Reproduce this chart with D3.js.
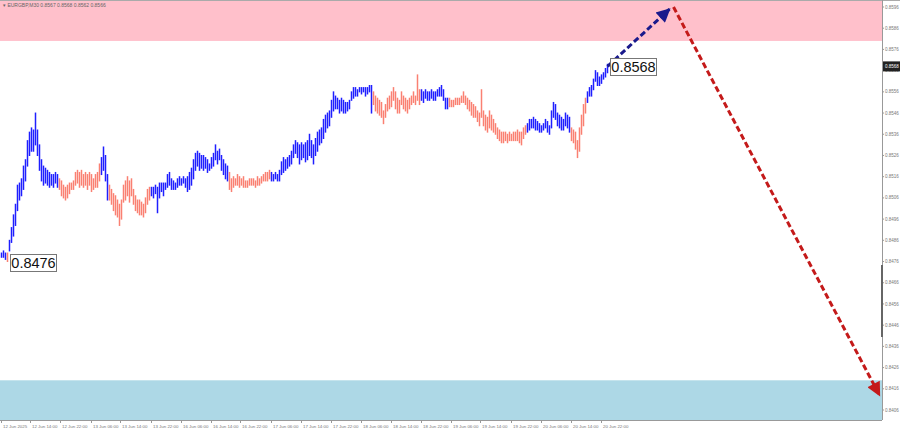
<!DOCTYPE html>
<html><head><meta charset="utf-8">
<script src="https://cdn.jsdelivr.net/npm/d3@7"></script>
<style>html,body{margin:0;padding:0;background:#fff;overflow:hidden}</style>
</head><body><svg id="c" width="900" height="432"></svg>
<script>
const headerText = "\u25BE EURGBP,M30  0.8567 0.8568 0.8562 0.8566";
const timeLabels = ["12 Jun 2025","12 Jun 14:00","12 Jun 22:00","13 Jun 06:00","13 Jun 14:00","13 Jun 22:00",
  "16 Jun 06:00","16 Jun 14:00","16 Jun 22:00","17 Jun 06:00","17 Jun 14:00","17 Jun 22:00",
  "18 Jun 06:00","18 Jun 14:00","18 Jun 22:00","19 Jun 06:00","19 Jun 14:00","19 Jun 22:00",
  "20 Jun 06:00","20 Jun 14:00","20 Jun 22:00"];
const barsPerLabel = 15;
const priceTicks = [0.8596,0.8586,0.8576,0.8566,0.8556,0.8546,0.8536,0.8526,0.8516,0.8506,0.8496,
  0.8486,0.8476,0.8466,0.8456,0.8446,0.8436,0.8426,0.8416,0.8406];
const highs = [
0.8480,0.8481,0.8480,0.8480,0.8486,0.8492,0.8498,0.8503,0.8512,0.8513,
0.8515,0.8521,0.8524,0.8533,0.8537,0.8539,0.8538,0.8546,0.8538,0.8531,
0.8524,0.8521,0.8520,0.8519,0.8518,0.8517,0.8517,0.8518,0.8517,0.8515,
0.8514,0.8512,0.8511,0.8512,0.8513,0.8513,0.8514,0.8518,0.8519,0.8518,
0.8519,0.8517,0.8518,0.8517,0.8518,0.8517,0.8515,0.8517,0.8518,0.8522,
0.8525,0.8530,0.8526,0.8517,0.8512,0.8510,0.8508,0.8507,0.8505,0.8503,
0.8505,0.8512,0.8514,0.8516,0.8514,0.8515,0.8510,0.8507,0.8505,0.8505,
0.8504,0.8503,0.8506,0.8510,0.8511,0.8511,0.8511,0.8512,0.8511,0.8513,
0.8513,0.8513,0.8513,0.8517,0.8518,0.8515,0.8514,0.8513,0.8515,0.8516,
0.8515,0.8516,0.8515,0.8516,0.8518,0.8520,0.8524,0.8527,0.8528,0.8527,
0.8526,0.8526,0.8525,0.8524,0.8522,0.8525,0.8527,0.8531,0.8528,0.8529,
0.8526,0.8524,0.8522,0.8521,0.8518,0.8515,0.8516,0.8515,0.8517,0.8516,
0.8515,0.8516,0.8514,0.8514,0.8515,0.8515,0.8515,0.8514,0.8516,0.8515,
0.8516,0.8517,0.8518,0.8518,0.8519,0.8518,0.8517,0.8518,0.8517,0.8519,
0.8523,0.8525,0.8524,0.8525,0.8526,0.8528,0.8531,0.8533,0.8532,0.8531,
0.8532,0.8531,0.8532,0.8533,0.8536,0.8533,0.8531,0.8534,0.8537,0.8538,
0.8539,0.8543,0.8545,0.8546,0.8547,0.8552,0.8556,0.8554,0.8553,0.8552,
0.8553,0.8552,0.8551,0.8551,0.8552,0.8556,0.8558,0.8558,0.8557,0.8558,
0.8558,0.8558,0.8558,0.8558,0.8559,0.8559,0.8556,0.8554,0.8553,0.8552,
0.8551,0.8547,0.8550,0.8553,0.8554,0.8556,0.8558,0.8556,0.8553,0.8552,
0.8556,0.8554,0.8553,0.8552,0.8553,0.8554,0.8556,0.8554,0.8564,0.8557,
0.8557,0.8556,0.8557,0.8556,0.8556,0.8557,0.8556,0.8556,0.8557,0.8558,
0.8559,0.8557,0.8553,0.8553,0.8553,0.8552,0.8552,0.8553,0.8553,0.8553,
0.8554,0.8556,0.8554,0.8553,0.8552,0.8551,0.8550,0.8549,0.8547,0.8546,
0.8557,0.8547,0.8545,0.8544,0.8547,0.8545,0.8543,0.8541,0.8539,0.8538,
0.8537,0.8537,0.8537,0.8536,0.8537,0.8536,0.8537,0.8537,0.8538,0.8537,
0.8537,0.8539,0.8540,0.8541,0.8543,0.8543,0.8544,0.8543,0.8542,0.8541,
0.8540,0.8541,0.8543,0.8542,0.8540,0.8547,0.8551,0.8550,0.8546,0.8545,
0.8544,0.8543,0.8546,0.8545,0.8544,0.8539,0.8538,0.8537,0.8533,0.8539,
0.8545,0.8550,0.8553,0.8556,0.8558,0.8559,0.8562,0.8566,0.8565,0.8563,
0.8564,0.8565,0.8567,0.8569];
const lows = [
0.8478,0.8478,0.8477,0.8476,0.8481,0.8485,0.8488,0.8493,0.8500,0.8505,
0.8507,0.8510,0.8514,0.8521,0.8526,0.8528,0.8528,0.8531,0.8526,0.8519,
0.8514,0.8512,0.8513,0.8512,0.8511,0.8512,0.8511,0.8513,0.8511,0.8510,
0.8507,0.8506,0.8505,0.8506,0.8508,0.8510,0.8510,0.8512,0.8513,0.8511,
0.8512,0.8511,0.8512,0.8510,0.8512,0.8509,0.8510,0.8511,0.8511,0.8514,
0.8517,0.8519,0.8514,0.8505,0.8505,0.8503,0.8500,0.8498,0.8497,0.8493,
0.8496,0.8504,0.8505,0.8507,0.8504,0.8507,0.8503,0.8500,0.8499,0.8498,
0.8498,0.8497,0.8499,0.8503,0.8505,0.8507,0.8506,0.8508,0.8499,0.8506,
0.8509,0.8507,0.8510,0.8511,0.8512,0.8510,0.8510,0.8510,0.8511,0.8512,
0.8512,0.8513,0.8511,0.8509,0.8510,0.8512,0.8515,0.8519,0.8521,0.8519,
0.8520,0.8519,0.8520,0.8518,0.8519,0.8520,0.8521,0.8524,0.8522,0.8524,
0.8519,0.8517,0.8515,0.8514,0.8510,0.8509,0.8511,0.8512,0.8512,0.8511,
0.8512,0.8511,0.8511,0.8511,0.8512,0.8512,0.8512,0.8511,0.8512,0.8512,
0.8513,0.8514,0.8514,0.8514,0.8515,0.8514,0.8514,0.8515,0.8514,0.8514,
0.8517,0.8518,0.8519,0.8520,0.8521,0.8522,0.8525,0.8527,0.8525,0.8522,
0.8524,0.8525,0.8523,0.8524,0.8526,0.8525,0.8522,0.8526,0.8528,0.8531,
0.8532,0.8534,0.8537,0.8539,0.8540,0.8544,0.8547,0.8548,0.8548,0.8546,
0.8547,0.8546,0.8546,0.8547,0.8548,0.8552,0.8553,0.8554,0.8554,0.8556,
0.8555,0.8556,0.8554,0.8555,0.8556,0.8546,0.8550,0.8547,0.8546,0.8545,
0.8544,0.8541,0.8544,0.8547,0.8548,0.8549,0.8552,0.8548,0.8546,0.8546,
0.8550,0.8548,0.8547,0.8546,0.8548,0.8550,0.8551,0.8550,0.8552,0.8550,
0.8552,0.8551,0.8553,0.8552,0.8552,0.8553,0.8552,0.8552,0.8554,0.8554,
0.8554,0.8552,0.8548,0.8548,0.8549,0.8549,0.8549,0.8550,0.8550,0.8550,
0.8551,0.8551,0.8550,0.8548,0.8547,0.8545,0.8544,0.8544,0.8542,0.8540,
0.8544,0.8540,0.8538,0.8537,0.8539,0.8538,0.8537,0.8536,0.8534,0.8533,
0.8532,0.8532,0.8533,0.8532,0.8533,0.8533,0.8533,0.8533,0.8533,0.8532,
0.8531,0.8534,0.8536,0.8537,0.8538,0.8539,0.8539,0.8538,0.8538,0.8537,
0.8537,0.8538,0.8539,0.8537,0.8536,0.8539,0.8544,0.8543,0.8540,0.8539,
0.8538,0.8538,0.8540,0.8539,0.8537,0.8533,0.8532,0.8529,0.8525,0.8528,
0.8536,0.8540,0.8546,0.8551,0.8554,0.8554,0.8557,0.8561,0.8559,0.8559,
0.8560,0.8562,0.8563,0.8565];
// wave segments: start bar index of each wave, alternating up (blue) / down (salmon)
const waveStarts = [0,3,4,29,50,54,75,114,135,186,210,224,263,285,293];
const waveColors = ["#1f1fff","#fa8072"];
// target zones
const resistanceZone = [0.8580, 0.8600];
const supportZone = [0.8400, 0.8420];
// forecast arrows [bar index, price]
const forecastUp = [[303,0.8568],[334,0.8595]];
const forecastDown = [[336,0.8596],[439,0.8413]];
// labels on the chart
const priceMarks = [{i:3, v:0.8476, t:"0.8476", dx:2}, {i:303, v:0.8568, t:"0.8568", dx:3}];
const lastPrice = 0.8568;
const totalSlots = 440;

const svg = d3.select("#c");
const W = 900, H = 432, plotR = 882, plotB = 420;
const x = d3.scaleLinear().domain([0,totalSlots]).range([1.5, plotR-0.5]);
const y = d3.scaleLinear().domain([0.8406, 0.8596]).range([410, 7]);
const FONT = "Liberation Sans, Arial, sans-serif";

svg.append("rect").attr("width",W).attr("height",H).attr("fill","#fff");
svg.append("defs").append("clipPath").attr("id","plot").append("rect")
  .attr("x",0).attr("y",1).attr("width",plotR).attr("height",plotB-1);
const g = svg.append("g").attr("clip-path","url(#plot)");

// zones
g.append("rect").attr("x",0).attr("width",plotR)
  .attr("y",y(resistanceZone[1])).attr("height",y(resistanceZone[0])-y(resistanceZone[1]))
  .attr("fill","#ffc0cb");
g.append("rect").attr("x",0).attr("width",plotR)
  .attr("y",y(supportZone[1])).attr("height",y(supportZone[0])-y(supportZone[1]))
  .attr("fill","#add8e6");

// bars
const bars = highs.map((h,i)=>({i, h, l:lows[i], w:d3.bisectRight(waveStarts,i)-1}));
g.append("g").selectAll("line").data(bars).join("line")
  .attr("x1",d=>x(d.i)).attr("x2",d=>x(d.i))
  .attr("y1",d=>y(d.h)-0.5).attr("y2",d=>y(d.l)+0.5)
  .attr("stroke",d=>waveColors[d.w%2]).attr("stroke-width",1.5);

// arrows
const defs = svg.select("defs");
function marker(id,color){
  defs.append("marker").attr("id",id).attr("viewBox","0 0 10 10").attr("refX",9).attr("refY",5)
    .attr("markerUnits","userSpaceOnUse").attr("markerWidth",16).attr("markerHeight",14)
    .attr("orient","auto").append("path").attr("d","M0,0L10,5L0,10Z").attr("fill",color);
}
marker("mb","#1a1a8c"); marker("mr","#c41a1a");
const line = d3.line().x(d=>x(d[0])).y(d=>y(d[1]));
svg.append("path").attr("d",line(forecastUp)).attr("fill","none").attr("stroke","#1a1a8c")
  .attr("stroke-width",3).attr("stroke-dasharray","6,3").attr("marker-end","url(#mb)");
svg.append("path").attr("d",line(forecastDown)).attr("fill","none").attr("stroke","#c41a1a")
  .attr("stroke-width",3).attr("stroke-dasharray","6,3").attr("marker-end","url(#mr)");

// price marks
priceMarks.forEach(p=>{
  const px = Math.round(x(p.i)+p.dx)+0.5, py = Math.round(y(p.v))+0.5;
  const gg = svg.append("g");
  gg.append("rect").attr("x",px).attr("y",py-8).attr("width",46).attr("height",17)
    .attr("fill","#fff").attr("stroke","#777").attr("stroke-width",1);
  gg.append("text").attr("x",px+23).attr("y",py+5.5).attr("text-anchor","middle")
    .attr("font-family",FONT).attr("font-size",14.5).attr("fill","#111").text(p.t);
});

// frame lines
svg.append("line").attr("x1",0).attr("x2",W).attr("y1",0.5).attr("y2",0.5).attr("stroke","#aaa");
svg.append("line").attr("x1",plotR+0.5).attr("x2",plotR+0.5).attr("y1",0).attr("y2",plotB).attr("stroke","#999");
svg.append("line").attr("x1",0).attr("x2",plotR).attr("y1",plotB+0.5).attr("y2",plotB+0.5).attr("stroke","#999");

// right price axis
const ra = svg.append("g").attr("font-family",FONT).attr("font-size",4.5).attr("fill","#777");
priceTicks.forEach(v=>{
  ra.append("line").attr("x1",plotR).attr("x2",plotR+2).attr("y1",y(v)).attr("y2",y(v)).attr("stroke","#999");
  ra.append("text").attr("x",plotR+3).attr("y",y(v)+1.6).text(v.toFixed(4));
});
svg.append("rect").attr("x",plotR+1).attr("y",y(lastPrice)-5).attr("width",W-plotR-1).attr("height",10).attr("fill","#222");
svg.append("text").attr("x",plotR+3).attr("y",y(lastPrice)+1.6).attr("font-family",FONT)
  .attr("font-size",4.5).attr("fill","#fff").text(lastPrice.toFixed(4));
svg.append("rect").attr("x",plotR-1).attr("y",265).attr("width",2).attr("height",72).attr("fill","#666");

// bottom time axis
const ba = svg.append("g").attr("font-family",FONT).attr("font-size",4.4).attr("fill","#777");
timeLabels.forEach((t,k)=>{
  const xx = Math.round(x(k*barsPerLabel))-0.5;
  ba.append("line").attr("x1",xx).attr("x2",xx).attr("y1",plotB).attr("y2",plotB+3).attr("stroke","#999");
  ba.append("text").attr("x",xx+1.5).attr("y",plotB+8).text(t);
});

// header
svg.append("text").attr("x",3).attr("y",7).attr("font-family",FONT)
  .attr("font-size",5).attr("fill","#666").text(headerText);
</script></body></html>
